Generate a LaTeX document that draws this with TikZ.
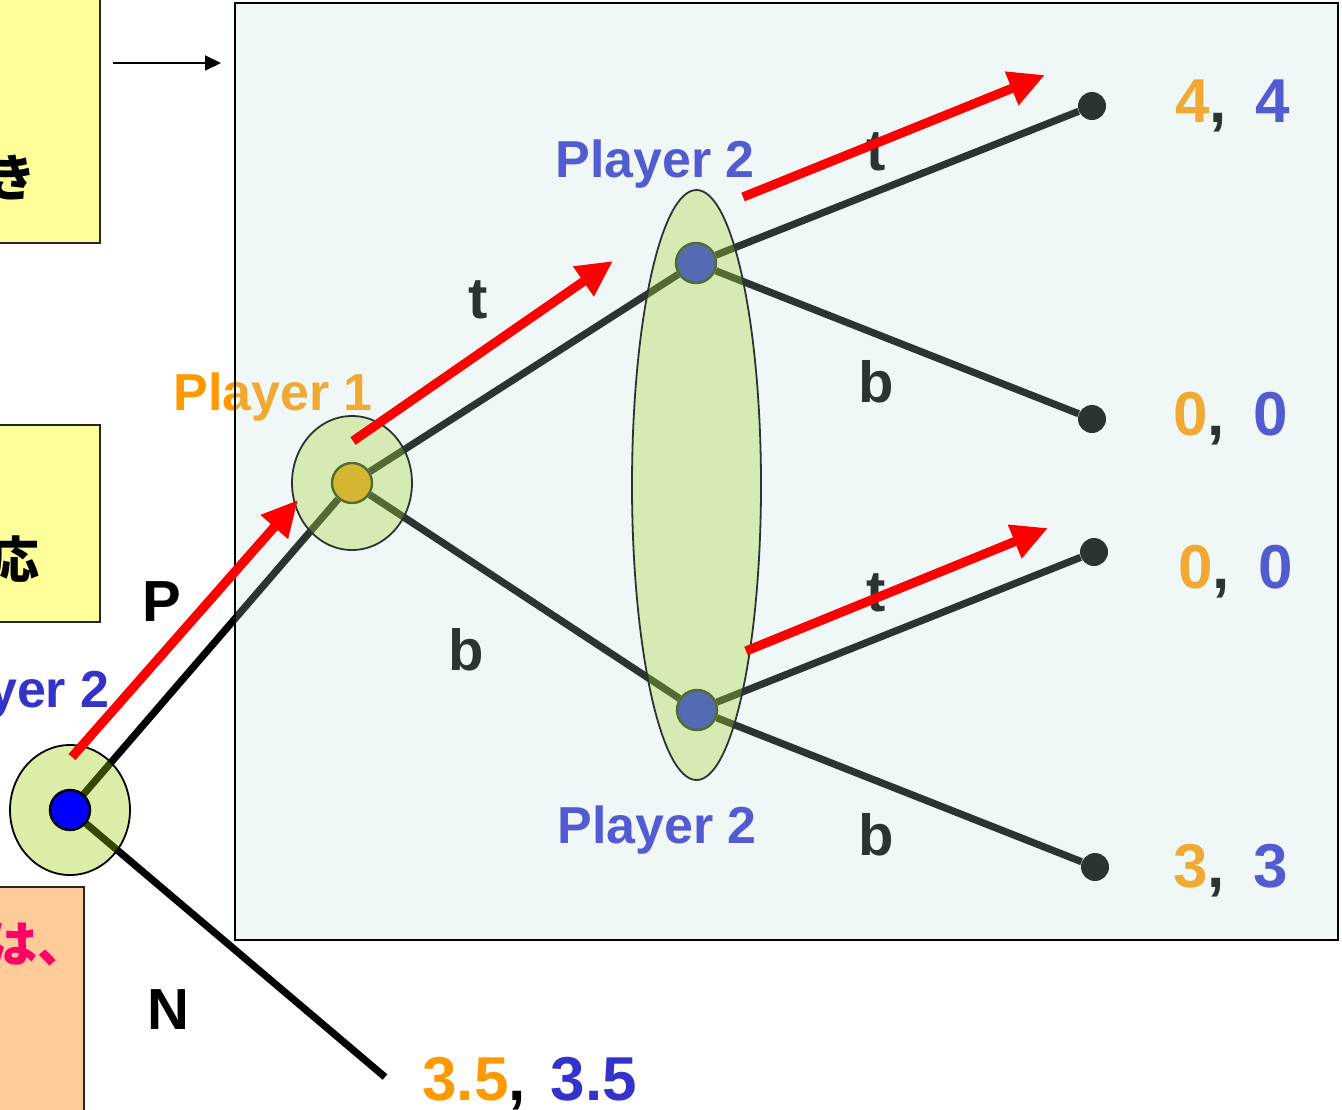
\documentclass[tikz,border=0pt]{standalone}
\usepackage{fontspec}
\setmainfont{Liberation Sans}
\newfontfamily\jpfont{Noto Sans CJK JP}
\usepackage{tikz}
\usetikzlibrary{arrows.meta, shapes.geometric}
\definecolor{boxyellow}{RGB}{255,255,153}
\definecolor{boxorange}{RGB}{255,204,153}
\definecolor{halogreen}{RGB}{153,204,0}
\definecolor{panelcyan}{RGB}{191,226,222}
\definecolor{pone}{RGB}{255,153,0}
\definecolor{ptwo}{RGB}{51,51,204}
\definecolor{notepink}{RGB}{255,0,102}

\begin{document}
\begin{tikzpicture}[x=0.5pt, y=-0.5pt,
    note/.style={draw=black!85, line width=1pt},
    jp/.style={font=\jpfont\bfseries\fontsize{25}{30}\selectfont, anchor=east, inner sep=0pt},
    dot/.style={circle, draw=black, line width=1.2pt, minimum size=20pt, inner sep=0pt},
    leaf/.style={circle, fill=black, minimum size=14pt, inner sep=0pt},
    halo/.style={ellipse, draw=black, line width=0.9pt, fill=halogreen, fill opacity=0.35, inner sep=0pt},
    branch/.style={line width=3.6pt},
    move/.style={font=\bfseries\fontsize{29}{34}\selectfont},
    who/.style={font=\bfseries\fontsize{26}{30}\selectfont, inner sep=0pt},
    pay/.style={font=\bfseries\fontsize{31}{36}\selectfont, anchor=base west, inner sep=0pt},
    pointer/.style={-{Triangle[length=8pt, width=7.5pt]}, line width=1pt},
    best/.style={-{Triangle[length=18pt, width=17pt]}, red, line width=4.6pt}
]
\useasboundingbox (0,0) rectangle (1342,1109);

\draw[note, fill=boxyellow] (-20,-20) rectangle (100,243);
\draw[note, fill=boxyellow] (-20,425) rectangle (100,622);
\draw[note, fill=boxorange] (-20,887) rectangle (84,1130);
\node[jp] (noteA) at (37,178) {き};
\node[jp] (noteB) at (40,559) {応};
\node[jp, text=notepink] (noteC) at (88,945) {は、};

\coordinate (arrowfrom) at (113,63);
\coordinate (arrowto) at (221,63);
\draw[pointer] (arrowfrom) -- (arrowto);

\coordinate (root) at (70,810);
\coordinate (nout) at (385,1077);
\node[dot, fill=pone] (p1) at (352,483) {};
\node[dot, fill=blue] (p2t) at (696,263) {};
\node[dot, fill=blue] (p2b) at (697,710) {};
\node[leaf] (tt) at (1092,106) {};
\node[leaf] (tb) at (1092,419) {};
\node[leaf] (bt) at (1094,552) {};
\node[leaf] (bb) at (1095,867) {};

\draw[branch] (root) -- (p1);
\draw[branch] (root) -- (nout);
\draw[branch] (p1) -- (p2t);
\draw[branch] (p1) -- (p2b);
\draw[branch] (p2t) -- (tt);
\draw[branch] (p2t) -- (tb);
\draw[branch] (p2b) -- (bt);
\draw[branch] (p2b) -- (bb);

\node[halo, minimum width=60pt, minimum height=65pt] (rooth) at (root) {};
\node[halo, minimum width=60pt, minimum height=67pt] (p1h) at (p1) {};
\node[halo, minimum width=64.5pt, minimum height=295pt] (info) at (696.5,485) {};
\node[dot, fill=blue] (rootd) at (root) {};

\node[who, text=ptwo, anchor=base east] (p2lab) at (110,707) {Player 2};
\node[who, text=pone, anchor=base west] (p1lab) at (173,410) {Player 1};
\node[who, text=ptwo, anchor=base west] (p2tlab) at (555,177) {Player 2};
\node[who, text=ptwo, anchor=base west] (p2blab) at (557,843) {Player 2};

\node[move] (mP) at (162,602) {P};
\node[move] (mN) at (168,1010) {N};
\node[move] (mt1) at (478,300) {t};
\node[move] (mb1) at (466,650) {b};
\node[move] (mt2) at (876,152) {t};
\node[move] (mb2) at (876,382) {b};
\node[move] (mt3) at (876,593) {t};
\node[move] (mb3) at (876,835) {b};

\node[pay] (ptt) at (1175,122) {\textcolor{pone}{4},\hspace{0.45em}\textcolor{ptwo}{4}};
\node[pay] (ptb) at (1173,435) {\textcolor{pone}{0},\hspace{0.45em}\textcolor{ptwo}{0}};
\node[pay] (pbt) at (1178,588) {\textcolor{pone}{0},\hspace{0.45em}\textcolor{ptwo}{0}};
\node[pay] (pbb) at (1173,887) {\textcolor{pone}{3},\hspace{0.45em}\textcolor{ptwo}{3}};
\node[pay] (pn) at (422,1100) {\textcolor{pone}{3.5},\hspace{0.4em}\textcolor{ptwo}{3.5}};

\node[draw=black, line width=1pt, fill=panelcyan, fill opacity=0.23, inner sep=0pt, minimum width=551.5pt, minimum height=468.5pt] (panel) at (786.5,471.5) {};

\coordinate (r1s) at (72,757);
\coordinate (r1e) at (298,500);
\coordinate (r2s) at (353,441);
\coordinate (r2e) at (613,261);
\coordinate (r3s) at (743,197);
\coordinate (r3e) at (1045,75);
\coordinate (r4s) at (746,651);
\coordinate (r4e) at (1048,528);
\draw[best] (r1s) -- (r1e);
\draw[best] (r2s) -- (r2e);
\draw[best] (r3s) -- (r3e);
\draw[best] (r4s) -- (r4e);
\end{tikzpicture}
\end{document}
